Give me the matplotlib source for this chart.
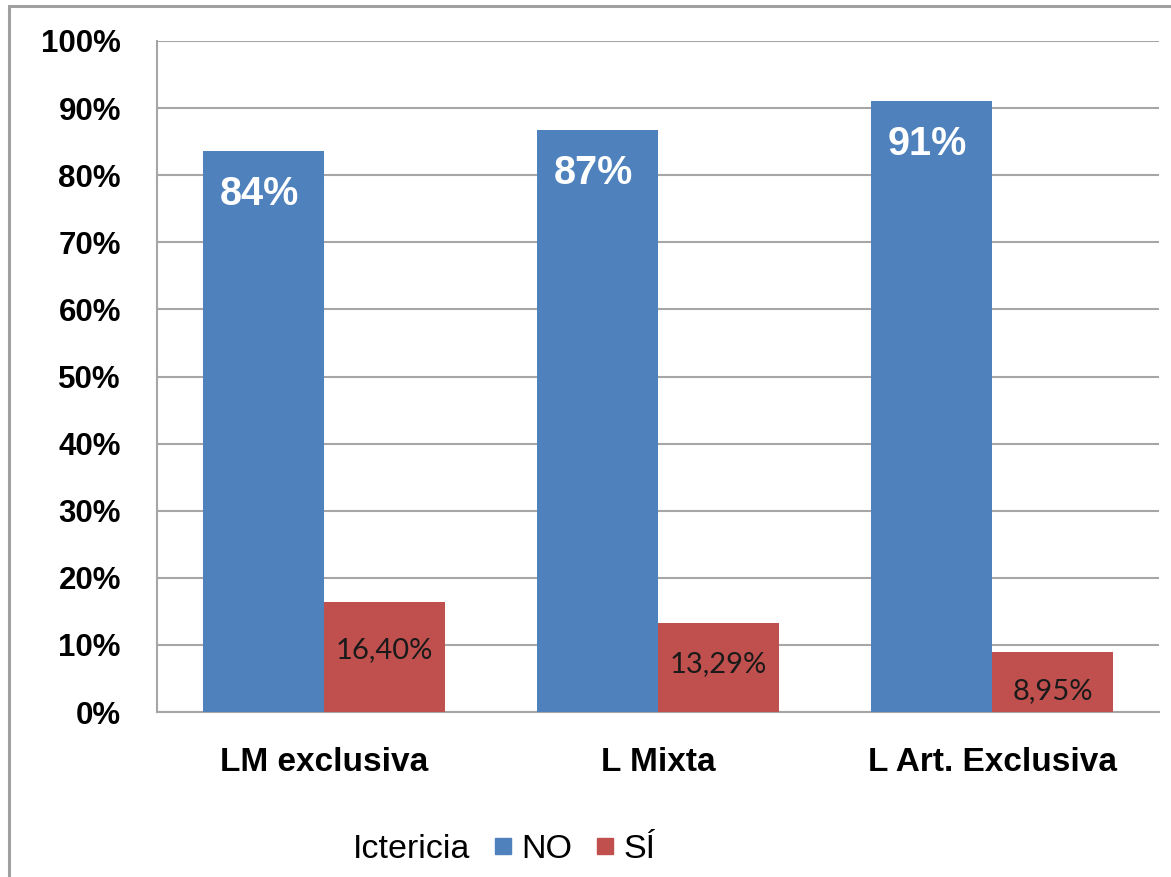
import numpy as np
import matplotlib.pyplot as plt
from matplotlib.lines import Line2D
from matplotlib.patches import Rectangle

categories = ["LM exclusiva", "L Mixta", "L Art. Exclusiva"]
no_values = [83.60, 86.71, 91.05]
si_values = [16.40, 13.29, 8.95]
no_labels = ["84%", "87%", "91%"]
si_labels = ["16,40%", "13,29%", "8,95%"]
# y position (data units) where each red label sits
si_label_y = [9.2, 7.2, 3.1]
yticks = list(range(0, 101, 10))

blue = "#4F81BD"
red = "#C0504D"
grid_gray = "#A6A6A6"

W, H = 1171, 877
fig = plt.figure(figsize=(W / 100, H / 100), dpi=100)
fig.patch.set_facecolor("white")

# outer chart border (cut at right and bottom like the reference)
fig.patches.append(Rectangle((9 / W, -0.5), 2.0, 1.5 - 6 / H, transform=fig.transFigure,
                             fill=False, edgecolor="#A0A0A0", linewidth=2.2))

ax = fig.add_axes([157 / W, 1 - 712 / H, (1159 - 157) / W, (712 - 41) / H])

x = np.arange(len(categories))
w = 121 / 334
ax.bar(x - w / 2, no_values, width=w, color=blue, zorder=3)
ax.bar(x + w / 2, si_values, width=w, color=red, zorder=3)

for xi, v, lab in zip(x, no_values, no_labels):
    ax.annotate(lab, (xi - w / 2, v), xytext=(-3, -31), textcoords="offset points",
                ha="center", va="center", color="white", fontsize=28.5,
                fontweight="bold", family="Liberation Sans", zorder=4)

for xi, yy, lab in zip(x, si_label_y, si_labels):
    ax.text(xi + w / 2, yy, lab, ha="center", va="center", color="#1a1a1a",
            fontsize=21, family="Lato", zorder=4)

ax.set_xlim(-0.5, len(categories) - 0.5)
ax.set_ylim(0, 100)
ax.set_yticks(yticks)
ax.set_yticklabels([f"{t}%" for t in yticks], fontsize=22.5, fontweight="bold",
                   family="Liberation Sans")
ax.set_xticks(x)
ax.set_xticklabels(categories, fontsize=24, fontweight="bold", family="Liberation Sans")
ax.tick_params(axis="y", length=0, pad=26)
ax.tick_params(axis="x", length=0, pad=25)

ax.grid(axis="y", color=grid_gray, linewidth=1.5, zorder=0)
for s in ["top", "right"]:
    ax.spines[s].set_visible(False)
for s in ["left", "bottom"]:
    ax.spines[s].set_color(grid_gray)
    ax.spines[s].set_linewidth(1.5)

# legend with title placed to the left, Excel style
fig.text(353 / W, 1 - 849 / H, "Ictericia", fontsize=24.5, family="Liberation Sans",
         ha="left", va="center")
handles = [Line2D([], [], marker="s", linestyle="none", markersize=11,
                  markerfacecolor=c, markeredgecolor=c) for c in (blue, red)]
fig.legend(handles, ["NO", "SÍ"], loc="center left",
           bbox_to_anchor=(494 / W, 1 - 849 / H), ncol=2, frameon=False,
           prop={"family": "Liberation Sans", "size": 24.5}, handlelength=0.5,
           handletextpad=0.3, columnspacing=0.7, borderpad=0, borderaxespad=0)

fig.savefig("out.png", dpi=100)
